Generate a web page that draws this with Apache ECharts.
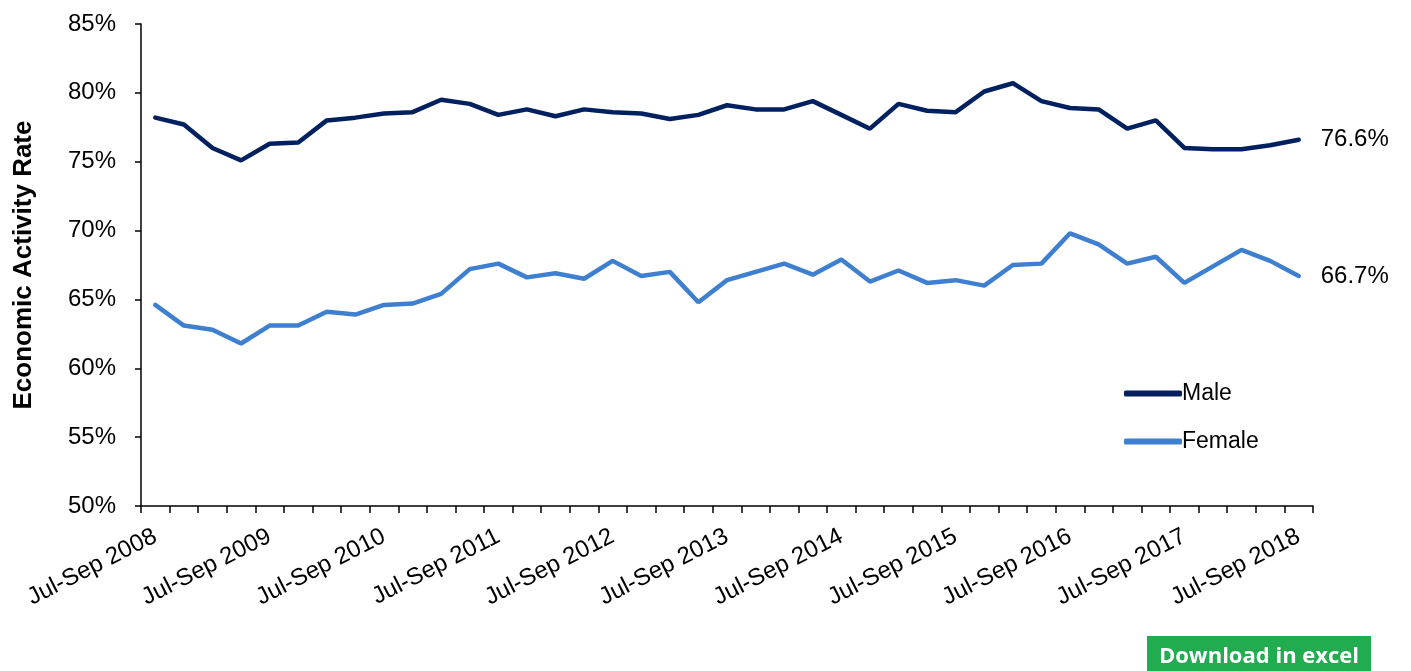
<!DOCTYPE html>
<html>
<head>
<meta charset="utf-8">
<script src="https://cdn.jsdelivr.net/npm/echarts@6/dist/echarts.min.js"></script>
<style>
  html, body { margin: 0; padding: 0; background: #fff; }
  #chart { width: 1411px; height: 671px; }
</style>
</head>
<body>
<div id="chart"></div>
<script>
// quarters Jul-Sep 2008 .. Jul-Sep 2018
const quarters = [
  'Jul-Sep 2008', 'Oct-Dec 2008', 'Jan-Mar 2009', 'Apr-Jun 2009',
  'Jul-Sep 2009', 'Oct-Dec 2009', 'Jan-Mar 2010', 'Apr-Jun 2010',
  'Jul-Sep 2010', 'Oct-Dec 2010', 'Jan-Mar 2011', 'Apr-Jun 2011',
  'Jul-Sep 2011', 'Oct-Dec 2011', 'Jan-Mar 2012', 'Apr-Jun 2012',
  'Jul-Sep 2012', 'Oct-Dec 2012', 'Jan-Mar 2013', 'Apr-Jun 2013',
  'Jul-Sep 2013', 'Oct-Dec 2013', 'Jan-Mar 2014', 'Apr-Jun 2014',
  'Jul-Sep 2014', 'Oct-Dec 2014', 'Jan-Mar 2015', 'Apr-Jun 2015',
  'Jul-Sep 2015', 'Oct-Dec 2015', 'Jan-Mar 2016', 'Apr-Jun 2016',
  'Jul-Sep 2016', 'Oct-Dec 2016', 'Jan-Mar 2017', 'Apr-Jun 2017',
  'Jul-Sep 2017', 'Oct-Dec 2017', 'Jan-Mar 2018', 'Apr-Jun 2018',
  'Jul-Sep 2018'
]

const male = [
  78.2, 77.7, 76.0, 75.1, 76.3, 76.4, 78.0, 78.2, 78.5, 78.6,
  79.5, 79.2, 78.4, 78.8, 78.3, 78.8, 78.6, 78.5, 78.1, 78.4,
  79.1, 78.8, 78.8, 79.4, 78.4, 77.4, 79.2, 78.7, 78.6, 80.1,
  80.7, 79.4, 78.9, 78.8, 77.4, 78.0, 76.0, 75.9, 75.9, 76.2,
  76.6
]

const female = [
  64.6, 63.1, 62.8, 61.8, 63.1, 63.1, 64.1, 63.9, 64.6, 64.7,
  65.4, 67.2, 67.6, 66.6, 66.9, 66.5, 67.8, 66.7, 67.0, 64.8,
  66.4, 67.0, 67.6, 66.8, 67.9, 66.3, 67.1, 66.2, 66.4, 66.0,
  67.5, 67.6, 69.8, 69.0, 67.6, 68.1, 66.2, 67.4, 68.6, 67.8,
  66.7
]

const yTicks = { min: 50, max: 85, step: 5 }

const font = 'Liberation Sans, Arial, sans-serif'

const endLabel = {
  show: true,
  color: '#000',
  fontSize: 24,
  fontFamily: font,
  distance: 22,
  formatter: p => p.value.toFixed(1) + '%'
}

const myChart = echarts.init(document.getElementById('chart'))

myChart.setOption({
  animation: false,
  textStyle: { fontFamily: font },
  grid: {
    left: 141,
    right: 98,
    top: 24,
    bottom: 165
  },
  legend: {
    orient: 'vertical',
    left: 1119,
    top: 377,
    itemWidth: 58,
    itemHeight: 6,
    itemGap: 25,
    icon: 'roundRect',
    textStyle: { color: '#000', fontSize: 23, fontFamily: font, padding: [0, 0, 0, -5] },
    data: ['Male', 'Female']
  },
  xAxis: {
    type: 'category',
    data: quarters,
    boundaryGap: true,
    axisLine: { lineStyle: { color: '#000', width: 1.5 } },
    axisTick: { show: true, interval: 0, length: 7, lineStyle: { color: '#000', width: 1.5 } },
    axisLabel: {
      interval: 3,
      rotate: 27,
      color: '#000',
      fontSize: 24,
      fontFamily: font,
      margin: 29
    }
  },
  yAxis: {
    type: 'value',
    min: yTicks.min,
    max: yTicks.max,
    interval: yTicks.step,
    name: 'Economic Activity Rate',
    nameLocation: 'middle',
    nameRotate: 90,
    nameGap: 104,
    nameTextStyle: { color: '#000', fontSize: 26, fontWeight: 'bold', fontFamily: font },
    splitLine: { show: false },
    axisLine: { show: true, lineStyle: { color: '#000', width: 1.5 } },
    axisTick: { show: true, length: 6, lineStyle: { color: '#000', width: 1.5 } },
    axisLabel: {
      color: '#000',
      fontSize: 24,
      fontFamily: font,
      margin: 25,
      formatter: '{value}%'
    }
  },
  series: [
    {
      name: 'Male',
      type: 'line',
      data: male,
      showSymbol: false,
      color: '#002060',
      lineStyle: { width: 4.5, color: '#002060', cap: 'round' },
      endLabel: endLabel
    },
    {
      name: 'Female',
      type: 'line',
      data: female,
      showSymbol: false,
      color: '#3f7fcf',
      lineStyle: { width: 4.5, color: '#3f7fcf', cap: 'round' },
      endLabel: endLabel
    }
  ],
  graphic: [
    {
      type: 'group',
      left: 1147,
      top: 636,
      children: [
        {
          type: 'rect',
          shape: { x: 0, y: 0, width: 224, height: 36 },
          style: { fill: '#21ad4f' }
        },
        {
          type: 'text',
          x: 112,
          y: 21,
          style: {
            text: 'Download in excel',
            fill: '#fff',
            font: 'bold 22px "Open Sans", sans-serif',
            align: 'center',
            verticalAlign: 'middle'
          }
        }
      ]
    }
  ]
})
</script>
</body>
</html>
